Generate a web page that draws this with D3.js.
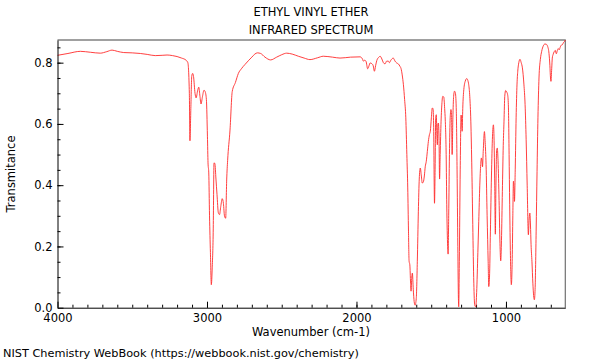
<!DOCTYPE html>
<html>
<head>
<meta charset="utf-8">
<script src="https://cdn.jsdelivr.net/npm/d3@7"></script>
<style>
body { margin: 0; background: #fff; }
svg { display: block; font-family: "DejaVu Sans", sans-serif; }
</style>
</head>
<body>
<svg width="600" height="360"></svg>
<script>
// IR spectrum of ethyl vinyl ether
var wavenumber = [4000,3930,3847,3780,3714,3670,3635,3600,3557,3500,3446,3400,3346,3300,3267,3230,3200,3170,3140,3128,
	3118,3114,3108,3102,3096,3090,3080,3073,3062,3055,3047,3040,3030,3020,3012,3004,2997,2993,2988,2983,
	2977,2971,2965,2958,2953,2947,2940,2933,2924,2916,2908,2898,2890,2883,2875,2868,2862,2846,2831,2810,
	2790,2770,2746,2720,2700,2680,2663,2641,2612,2574,2534,2500,2467,2430,2389,2350,2311,2260,2222,2160,
	2110,2040,1976,1960,1954,1945,1936,1925,1916,1909,1898,1888,1880,1872,1864,1850,1842,1830,1820,1809,
	1798,1787,1780,1770,1754,1742,1731,1720,1709,1702,1694,1686,1678,1670,1663,1657,1652,1648,1643,1638,
	1635,1630,1626,1620,1614,1608,1600,1593,1586,1580,1573,1566,1560,1553,1546,1540,1533,1526,1519,1512,
	1506,1499,1493,1488,1484,1478,1474,1470,1466,1462,1459,1455,1452,1448,1444,1440,1434,1428,1423,1416,
	1410,1406,1400,1396,1390,1387,1383,1378,1373,1368,1364,1360,1355,1350,1344,1338,1332,1327,1322,1318,
	1316,1312,1306,1300,1296,1293,1289,1282,1272,1262,1255,1249,1242,1235,1228,1222,1215,1209,1202,1196,
	1188,1182,1175,1169,1164,1160,1157,1152,1144,1139,1133,1126,1119,1115,1110,1104,1097,1090,1084,1080,
	1075,1071,1067,1062,1058,1053,1046,1040,1035,1030,1024,1018,1013,1008,1002,996,989,984,979,975,
	970,964,958,954,950,946,943,938,932,926,921,914,906,898,890,880,872,865,858,850,
	845,840,836,832,826,820,815,810,805,798,792,786,779,770,761,750,739,730,721,712,
	706,702,699,694,690,685,678,670,663,656,650,644,636,628,622,615,608,603];
var transmittance = [0.824,0.830,0.837,0.834,0.831,0.836,0.841,0.837,0.833,0.832,0.830,0.827,0.823,0.824,0.825,0.823,0.820,0.815,0.808,0.800,
	0.700,0.545,0.650,0.755,0.765,0.755,0.700,0.685,0.710,0.720,0.690,0.665,0.690,0.710,0.705,0.680,0.560,0.473,0.440,0.300,
	0.180,0.075,0.130,0.260,0.473,0.470,0.420,0.370,0.310,0.304,0.330,0.356,0.340,0.300,0.292,0.420,0.480,0.580,0.706,0.735,
	0.765,0.780,0.794,0.808,0.818,0.828,0.832,0.830,0.818,0.809,0.818,0.826,0.831,0.828,0.821,0.815,0.810,0.816,0.821,0.818,
	0.815,0.818,0.819,0.812,0.805,0.808,0.804,0.780,0.790,0.799,0.797,0.790,0.772,0.790,0.807,0.818,0.821,0.812,0.800,0.796,
	0.805,0.805,0.800,0.808,0.815,0.805,0.799,0.796,0.788,0.781,0.760,0.728,0.680,0.620,0.500,0.391,0.250,0.152,0.140,0.080,
	0.054,0.100,0.113,0.060,0.020,0.008,0.030,0.150,0.315,0.420,0.456,0.430,0.407,0.410,0.430,0.460,0.478,0.510,0.543,0.565,
	0.576,0.620,0.652,0.650,0.600,0.341,0.450,0.620,0.630,0.560,0.532,0.600,0.603,0.560,0.420,0.500,0.609,0.670,0.690,0.688,
	0.650,0.613,0.500,0.336,0.200,0.175,0.300,0.500,0.620,0.647,0.630,0.500,0.620,0.690,0.707,0.700,0.640,0.450,0.200,0.030,
	0.003,0.150,0.450,0.629,0.600,0.576,0.650,0.712,0.740,0.748,0.742,0.728,0.690,0.609,0.450,0.271,0.080,0.008,0.003,0.050,
	0.180,0.282,0.400,0.467,0.489,0.478,0.460,0.510,0.575,0.540,0.467,0.300,0.150,0.069,0.100,0.250,0.430,0.560,0.597,0.560,
	0.400,0.240,0.400,0.516,0.521,0.480,0.350,0.210,0.153,0.220,0.380,0.530,0.609,0.690,0.709,0.705,0.696,0.663,0.500,0.336,
	0.170,0.075,0.160,0.300,0.413,0.390,0.347,0.450,0.620,0.730,0.772,0.800,0.811,0.800,0.783,0.730,0.663,0.550,0.400,0.238,
	0.290,0.309,0.270,0.206,0.150,0.080,0.040,0.026,0.060,0.250,0.445,0.620,0.750,0.810,0.837,0.855,0.861,0.860,0.853,0.830,
	0.790,0.750,0.739,0.780,0.815,0.826,0.835,0.840,0.829,0.840,0.846,0.842,0.852,0.858,0.859,0.866,0.869,0.874];

var xTicks = [4000, 3000, 2000, 1000];
var yTicks = [0.0, 0.2, 0.4, 0.6, 0.8];
var titleLines = ['ETHYL VINYL ETHER', 'INFRARED SPECTRUM'];

var plotLeft = 57.5, plotRight = 565.3, plotTop = 40, plotBottom = 307.7;
var svg = d3.select('svg');

var x = d3.scaleLinear().domain([4000, 603]).range([plotLeft, plotRight]);
var y = d3.scaleLinear().domain([0, 0.874]).range([plotBottom, plotTop]);

var spectrum = wavenumber.map(function(w, i){ return {w: w, t: transmittance[i]}; });

// minor ticks
svg.append('g')
	.attr('transform', 'translate(0,' + plotBottom + ')')
	.call(d3.axisBottom(x).tickValues(d3.range(3900, 600, -100)).tickSize(-3).tickFormat(''))
	.call(function(g){ g.select('.domain').remove(); });
svg.append('g')
	.attr('transform', 'translate(' + plotLeft + ',0)')
	.call(d3.axisLeft(y).tickValues(d3.range(0.05, 0.87, 0.05)).tickSize(-3).tickFormat(''))
	.call(function(g){ g.select('.domain').remove(); });

// top and right frame
svg.append('line').attr('x1', plotLeft).attr('x2', plotRight + 0.5).attr('y1', plotTop).attr('y2', plotTop)
	.attr('stroke', '#a0a0a0').attr('stroke-width', 2);
svg.append('line').attr('x1', plotRight).attr('x2', plotRight).attr('y1', plotTop).attr('y2', plotBottom)
	.attr('stroke', '#707070').attr('stroke-width', 1.2);

svg.append('path')
	.datum(spectrum)
	.attr('fill', 'none')
	.attr('stroke', '#ff2a2a')
	.attr('stroke-width', 0.9)
	.attr('d', d3.line()
		.x(function(d){ return x(d.w); })
		.y(function(d){ return y(d.t); })
		.curve(d3.curveMonotoneX));

var xAxis = svg.append('g')
	.attr('transform', 'translate(0,' + plotBottom + ')')
	.call(d3.axisBottom(x).tickValues(xTicks).tickSize(-6).tickPadding(6).tickFormat(d3.format('d')).tickSizeOuter(0));
var yAxis = svg.append('g')
	.attr('transform', 'translate(' + plotLeft + ',0)')
	.call(d3.axisLeft(y).tickValues(yTicks).tickSize(-6).tickPadding(5).tickFormat(d3.format('.1f')).tickSizeOuter(0));
[xAxis, yAxis].forEach(function(g){
	g.selectAll('text').attr('font-size', 11.5).attr('font-family', '"DejaVu Sans", sans-serif').attr('fill', '#000');
	g.select('.domain').attr('stroke', '#000');
});

svg.selectAll('.title')
	.data(titleLines)
	.enter()
	.append('text')
		.attr('class', 'title')
		.attr('x', 311)
		.attr('y', function(d, i){ return 16 + i * 18; })
		.attr('text-anchor', 'middle')
		.attr('font-size', 11.5)
		.text(function(d){ return d; });

svg.append('text')
	.attr('transform', 'translate(15,174) rotate(-90)')
	.attr('text-anchor', 'middle')
	.attr('font-size', 11.5)
	.text('Transmitance');

svg.append('text')
	.attr('x', 311).attr('y', 336)
	.attr('text-anchor', 'middle')
	.attr('font-size', 11.5)
	.text('Wavenumber (cm-1)');

svg.append('text')
	.attr('x', 3).attr('y', 357)
	.attr('font-size', 11.3)
	.text('NIST Chemistry WebBook (https://webbook.nist.gov/chemistry)');
</script>
</body>
</html>
